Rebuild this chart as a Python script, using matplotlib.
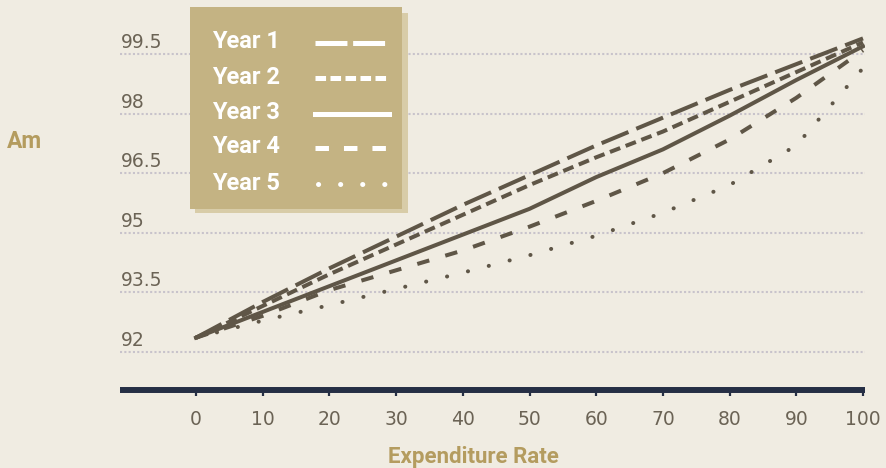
import matplotlib.pyplot as plt
from matplotlib.lines import Line2D
from matplotlib.patches import Rectangle

# data
rates = [0, 10, 20, 30, 40, 50, 60, 70, 80, 90, 100]
year1 = [92.35, 93.25, 94.1, 94.9, 95.7, 96.45, 97.2, 97.9, 98.6, 99.25, 99.9]
year2 = [92.35, 93.15, 93.95, 94.7, 95.45, 96.2, 96.9, 97.55, 98.3, 99.05, 99.8]
year3 = [92.35, 93.0, 93.65, 94.3, 94.95, 95.6, 96.4, 97.1, 97.95, 98.85, 99.7]
year4 = [92.35, 92.9, 93.55, 94.05, 94.55, 95.15, 95.8, 96.5, 97.35, 98.4, 99.6]
year5 = [92.35, 92.78, 93.17, 93.58, 93.99, 94.43, 94.92, 95.5, 96.2, 97.2, 99.15]
series_names = ["Year 1", "Year 2", "Year 3", "Year 4", "Year 5"]
y_ticks = [92, 93.5, 95, 96.5, 98, 99.5]
y_tick_labels = ["92", "93.5", "95", "96.5", "98", "99.5"]
x_ticks = [0, 10, 20, 30, 40, 50, 60, 70, 80, 90, 100]

BG = "#f0ece2"
LINE = "#5f5647"
GOLD = "#b49c5f"
TXT = "#6b6355"
W, H = 886, 468

plt.rcParams["lines.scale_dashes"] = False

# dash patterns in points (plot, legend)
plot_styles = [
    dict(ls=(0, (20.9, 6.1))),
    dict(ls=(0, (7.9, 4.2))),
    dict(ls="-"),
    dict(ls=(0, (9.0, 12.0))),
    dict(ls=(0, (0.1, 15.4)), dash_capstyle="round"),
]
legend_styles = [
    dict(ls=(0, (23.0, 4.1))),
    dict(ls=(0, (7.6, 3.2))),
    dict(ls="-"),
    dict(ls=(0, (9.7, 10.8))),
    dict(ls=(0, (0.1, 15.8)), dash_capstyle="round"),
]


def fx(px):
    return px / W


def fy(py):
    return 1 - py / H


fig = plt.figure(figsize=(W / 100, H / 100), dpi=100, facecolor=BG)
ax = fig.add_axes([fx(120), fy(390), fx(865) - fx(120), fy(26.5) - fy(390)])
ax.set_facecolor(BG)

for vals, st in zip([year1, year2, year3, year4, year5], plot_styles):
    ax.plot(rates, vals, color=LINE, lw=2.9, zorder=3, **st)

ax.set_xlim(-11.4, 100.3)
ax.set_ylim(91.03, 100.2)

for s in ["top", "left", "right"]:
    ax.spines[s].set_visible(False)
ax.spines["bottom"].set_color("#262f45")
ax.spines["bottom"].set_linewidth(4.3)
ax.spines["bottom"].set_capstyle("butt")

ax.set_xticks(x_ticks)
ax.set_xticklabels([str(t) for t in x_ticks])
ax.tick_params(axis="x", direction="out", length=4.5, width=1.6, color="#262f45",
               labelsize=13.5, labelcolor=TXT, pad=10)

ax.set_yticks(y_ticks)
ax.tick_params(axis="y", length=0, labelleft=False)
ax.yaxis.grid(True, color="#c8c3cb", lw=1.5, ls=(0, (1.5, 1.6)), zorder=1)
ax.set_axisbelow(True)

for v, lab in zip(y_ticks, y_tick_labels):
    ax.annotate(lab, xy=(0, v), xycoords=("axes fraction", "data"),
                xytext=(1, 6), textcoords="offset pixels", va="baseline",
                ha="left", fontsize=13.5, color=TXT)

fig.text(fx(473), fy(463), "Expenditure Rate", ha="center", va="baseline",
         fontsize=16, fontweight="bold", family="Roboto", color=GOLD)
fig.text(fx(7), fy(141), "Am", ha="left", va="center",
         fontsize=16.5, fontweight="bold", family="Roboto", color=GOLD)

# legend box with offset shadow
fig.add_artist(Rectangle((fx(195), fy(213)), fx(408) - fx(195), fy(12.7) - fy(213),
                         transform=fig.transFigure, facecolor="#d8cca8", edgecolor="none", zorder=5))
fig.add_artist(Rectangle((fx(190), fy(209.3)), fx(401.7) - fx(190), fy(7.3) - fy(209.3),
                         transform=fig.transFigure, facecolor="#c4b383", edgecolor="none", zorder=6))
row_y = [41.7, 77.3, 112.7, 146.7, 183.3]
for name, ry, st in zip(series_names, row_y, legend_styles):
    fig.text(fx(211.7), fy(ry), name, ha="left", va="center", fontsize=17,
             fontweight="bold", family="Roboto", color="white", zorder=7)
    x0 = 317.7 if name == "Year 5" else 315
    fig.add_artist(Line2D([fx(x0), fx(389)], [fy(ry + 1), fy(ry + 1)],
                          transform=fig.transFigure, color="white", lw=3.6, zorder=7, **st))

fig.savefig("out.png", dpi=100, facecolor=BG)
